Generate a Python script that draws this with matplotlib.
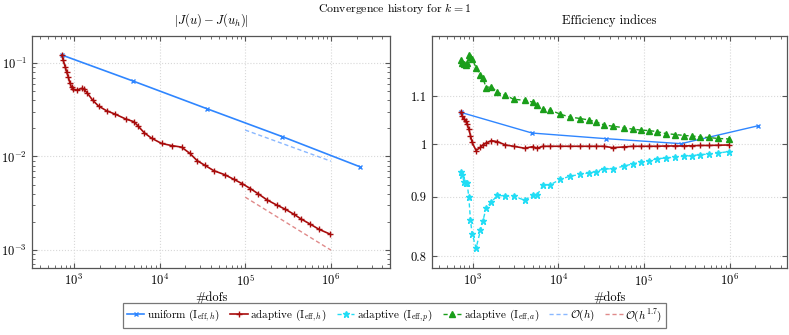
import numpy as np
import matplotlib.pyplot as plt
from matplotlib.ticker import LogLocator, FixedLocator, FixedFormatter, NullLocator, NullFormatter
from matplotlib.lines import Line2D

plt.rcParams['font.family'] = 'serif'
plt.rcParams['font.serif'] = ['cmr10']
plt.rcParams['mathtext.fontset'] = 'cm'
plt.rcParams['axes.formatter.use_mathtext'] = True

# uniform refinement
uniform_dofs = [725, 4925, 36000, 272000, 2170000]
uniform_err = [0.122, 0.0642, 0.0324, 0.0163, 0.00778]
uniform_eff = [1.065, 1.022, 1.0106, 1.0006, 1.037]

# adaptive refinement
adaptive_dofs = [725, 750, 792, 822, 859, 898, 940, 982, 1093, 1230, 1309, 1430,
                 1652, 1941, 2408, 3009, 4040, 5010, 5620, 6610, 8070, 10550,
                 13800, 18060, 22600, 27500, 33800, 43000, 57800, 73600, 92100,
                 115000, 141000, 180000, 232000, 295000, 369000, 454000, 578000,
                 728000, 988000]
adaptive_err = [0.122, 0.1077, 0.0913, 0.0807, 0.0714, 0.0615, 0.0549, 0.0523,
                0.0514, 0.0537, 0.0523, 0.0481, 0.0402, 0.0347, 0.0309, 0.0285,
                0.0252, 0.0236, 0.0212, 0.018, 0.0157, 0.0138, 0.0131, 0.0126,
                0.0108, 0.00902, 0.00805, 0.00705, 0.00638, 0.0057, 0.00512,
                0.00453, 0.004, 0.00343, 0.00303, 0.00272, 0.00241, 0.00213,
                0.00188, 0.00166, 0.00147]
eff_h = [1.065, 1.058, 1.051, 1.047, 1.040, 1.030, 1.017, 1.003, 0.987, 0.9935,
         0.998, 1.002, 1.0066, 1.0046, 0.998, 0.9954, 0.9915, 0.9947, 0.9915,
         0.9954, 0.9954, 0.9954, 0.9954, 0.9954, 0.9954, 0.9954, 0.9954, 0.9927,
         0.994, 0.9954, 0.9954, 0.9954, 0.9954, 0.996, 0.996, 0.996, 0.9965,
         0.997, 0.997, 0.9975, 0.998]
eff_p = [0.9465, 0.940, 0.927, 0.925, 0.925, 0.8996, 0.859, 0.8365, 0.8128, 0.842,
         0.857, 0.880, 0.891, 0.9026, 0.9015, 0.901, 0.894, 0.9026, 0.9026, 0.921,
         0.922, 0.932, 0.938, 0.941, 0.944, 0.9465, 0.9516, 0.9516, 0.9567, 0.961,
         0.9643, 0.9674, 0.9707, 0.9726, 0.974, 0.976, 0.977, 0.979, 0.980, 0.982,
         0.985]
eff_a = [1.182, 1.176, 1.172, 1.170, 1.174, 1.195, 1.190, 1.185, 1.164, 1.147,
         1.141, 1.119, 1.121, 1.108, 1.102, 1.093, 1.091, 1.087, 1.080, 1.072,
         1.070, 1.061, 1.055, 1.052, 1.049, 1.045, 1.039, 1.036, 1.033, 1.030,
         1.028, 1.027, 1.025, 1.021, 1.019, 1.017, 1.016, 1.014, 1.013, 1.011,
         1.010]

# reference slopes (3D: h ~ dofs^(-1/3))
ref_dofs = np.array([1e5, 1e6])
ref_h_start = 0.0192
ref_h17_start = 0.00367

c_uni = '#2f86ff'
c_red = '#a80c0c'
c_cyan = '#22ddf5'
c_green = '#1a9e1a'
c_refb = '#8ab8ff'
c_refr = '#e08a8a'

fig = plt.figure(figsize=(7.89, 3.35), dpi=100)
ax1 = fig.add_axes([0.0406, 0.2, 0.4537, 0.6925])
ax2 = fig.add_axes([0.547, 0.2, 0.4505, 0.6925])

# left: error
ax1.loglog(uniform_dofs, uniform_err, color=c_uni, marker='x', ms=3.5, mew=1, lw=1.2)
ax1.loglog(adaptive_dofs, adaptive_err, color=c_red, marker='+', ms=5, mew=1, lw=1.2)
ax1.loglog(ref_dofs, ref_h_start * (ref_dofs / 1e5) ** (-1 / 3), color=c_refb, ls='--', lw=1.0, dashes=(3, 2))
ax1.loglog(ref_dofs, ref_h17_start * (ref_dofs / 1e5) ** (-1.7 / 3), color=c_refr, ls='--', lw=1.0, dashes=(3, 2))
ax1.set_xlim(325, 4.9e6)
ax1.set_ylim(6.4e-4, 0.195)
ax1.set_title(r'$|J(u)-J(u_h)|$', fontsize=9, pad=9)

# right: efficiency indices
ax2.plot(uniform_dofs, uniform_eff, color=c_uni, marker='x', ms=3.5, mew=1, lw=1.0)
ax2.plot(adaptive_dofs, eff_h, color=c_red, marker='+', ms=5, mew=1, lw=1.2)
ax2.plot(adaptive_dofs, eff_p, color=c_cyan, marker='*', ms=5, lw=1.0, ls='--', dashes=(3, 2))
ax2.plot(adaptive_dofs, eff_a, color=c_green, marker='^', ms=4, lw=1.0, ls='--', dashes=(3, 2))
ax2.set_xscale('log')
ax2.set_yscale('log')
ax2.set_xlim(330, 4.7e6)
ax2.set_ylim(0.781, 1.24)
ax2.yaxis.set_major_locator(FixedLocator([0.8, 0.9, 1.0, 1.1]))
ax2.yaxis.set_major_formatter(FixedFormatter(['0.8', '0.9', '1', '1.1']))
ax2.yaxis.set_minor_locator(NullLocator())
ax2.yaxis.set_minor_formatter(NullFormatter())
ax2.set_title('Efficiency indices', fontsize=9, pad=9)

for ax in (ax1, ax2):
    ax.set_xlabel('#dofs', fontsize=9, labelpad=2)
    ax.xaxis.set_major_locator(LogLocator(base=10, numticks=10))
    ax.xaxis.set_minor_locator(LogLocator(base=10, subs=np.arange(2, 10), numticks=20))
    ax.grid(True, which='major', color='#d8d8d8', ls=':', lw=0.8)
    ax.tick_params(which='both', direction='in', top=True, right=True, labelsize=9, color='#555555')
    ax.tick_params(which='major', length=3.5)
    ax.tick_params(which='minor', length=2)
    for s in ax.spines.values():
        s.set_color('#555555')
        s.set_linewidth(0.9)

fig.text(0.5, 1 - 8 / 335, r'Convergence history for $k=1$', ha='center', va='center', fontsize=8.5)

handles = [
    Line2D([], [], color=c_uni, marker='x', ms=3.5, mew=1, lw=1.2),
    Line2D([], [], color=c_red, marker='+', ms=5, mew=1, lw=1.2),
    Line2D([], [], color=c_cyan, marker='*', ms=5, lw=1.0, ls='--', dashes=(3, 2)),
    Line2D([], [], color=c_green, marker='^', ms=4, lw=1.0, ls='--', dashes=(3, 2)),
    Line2D([], [], color=c_refb, ls='--', lw=1.0, dashes=(3, 2)),
    Line2D([], [], color=c_refr, ls='--', lw=1.0, dashes=(3, 2)),
]
labels = [r'uniform ($\mathrm{I}_{\mathrm{eff},h}$)', r'adaptive ($\mathrm{I}_{\mathrm{eff},h}$)',
          r'adaptive ($\mathrm{I}_{\mathrm{eff},p}$)', r'adaptive ($\mathrm{I}_{\mathrm{eff},a}$)',
          r'$\mathcal{O}(h)$', r'$\mathcal{O}(h^{1.7})$']
leg = fig.legend(handles, labels, loc='lower center', bbox_to_anchor=(0.5, 0.005), ncol=6,
                 fontsize=8, frameon=True, fancybox=False, handlelength=1.6,
                 columnspacing=0.9, handletextpad=0.25, borderpad=0.35)
leg.get_frame().set_edgecolor('#555555')
leg.get_frame().set_linewidth(0.9)

fig.savefig('out.png', dpi=100)
